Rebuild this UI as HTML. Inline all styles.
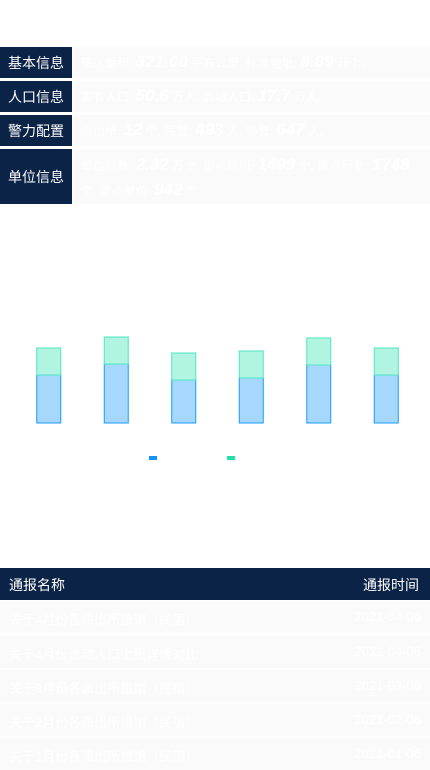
<!DOCTYPE html>
<html><head><meta charset="utf-8"><style>
body{margin:0;width:430px;height:770px;background:#fff;font-family:"Liberation Sans","Noto Sans CJK SC",sans-serif;position:relative;overflow:hidden}
.row{position:absolute;left:0;width:430px;display:flex}
.lab{width:72px;background:#0c2348;color:#fff;font-size:14px;display:flex;align-items:center;justify-content:center}
.val{flex:1;margin-left:1px;background:#fafafa;color:#fff;font-size:12px;padding:4px 8px;line-height:24px}
.val b{font-size:17px;font-style:italic}
.th{position:absolute;left:0;top:568px;width:430px;height:32px;background:#0c2348;color:#fff;font-size:14px}
.tr{position:absolute;left:0;width:430px;height:32px;background:#fafafa;color:#fff;font-size:13px}
</style></head><body>
<div class="row" style="top:47px;height:31px"><div class="lab">基本信息</div><div class="val" style="padding-top:3px">辖区面积: <b>321.00</b> 平方公里, 标准地址: <b>8.89</b> 万个。</div></div>
<div class="row" style="top:81px;height:31px"><div class="lab">人口信息</div><div class="val" style="padding-top:3px">实有人口: <b>50.6</b> 万人, 流动人口: <b>17.7</b> 万人。</div></div>
<div class="row" style="top:115px;height:31px"><div class="lab">警力配置</div><div class="val" style="padding-top:3px">派出所: <b>12</b> 个, 民警: <b>493</b> 人, 协警: <b>647</b> 人。</div></div>
<div class="row" style="top:149px;height:55px"><div class="lab">单位信息</div><div class="val">单位总数: <b>2.32</b> 万个, 重点场所: <b>1499</b> 个, 重点行业: <b>1748</b> 个, 重点单位: <b>942</b> 个</div></div>

<svg id="chart" style="position:absolute;left:0;top:300px" width="430" height="180"></svg>

<div class="th"><span style="position:absolute;left:9px;top:7px">通报名称</span><span style="position:absolute;right:11px;top:7px">通报时间</span></div>
<div id="rows"></div>
<script>
const categories=["A","B","C","D","E","F"];
const seriesBlue=[48,59,43,45,58,48];
const seriesGreen=[27,27,27,27,27,27];
const svg=document.getElementById('chart');
const NS='http://www.w3.org/2000/svg';
const base=123, band=67.5, x0=15, bw=24;
const y=v=>base-v;
const xc=i=>x0+band*i+band/2;
categories.forEach((c,i)=>{
  const b=seriesBlue[i], g=seriesGreen[i];
  const r1=document.createElementNS(NS,'rect');
  r1.setAttribute('x',xc(i)-bw/2);r1.setAttribute('y',y(b));r1.setAttribute('width',bw);r1.setAttribute('height',b);
  r1.setAttribute('fill','#a6d8fe');r1.setAttribute('stroke','#1a9cf7');r1.setAttribute('stroke-width','1');
  
  
  svg.appendChild(r1);
  const r2=document.createElementNS(NS,'rect');
  r2.setAttribute('x',xc(i)-bw/2);r2.setAttribute('y',y(b+g));r2.setAttribute('width',bw);r2.setAttribute('height',g);
  r2.setAttribute('fill','#b1f4e2');r2.setAttribute('stroke','#4ee6c0');r2.setAttribute('stroke-width','1');
  
  
  svg.appendChild(r2);
});
[[149,'#1592fb','legend-blue'],[227,'#21dfa8','legend-green']].forEach(l=>{
  const r=document.createElementNS(NS,'rect');
  r.setAttribute('x',l[0]);r.setAttribute('y',156);r.setAttribute('width',8);r.setAttribute('height',4);r.setAttribute('fill',l[1]);
  
  
  svg.appendChild(r);
});
const names=["关于4月份各派出所旅馆（民宿）","关于4月份流动人口上报详情对比","关于3月份各派出所旅馆（民宿）","关于2月份各派出所旅馆（民宿）","关于1月份各派出所旅馆（民宿）"];
const dates=["2021-04-06","2021-04-06","2021-03-06","2021-02-06","2021-01-06"];
const tops=[601,636,670,704,738];
const rc=document.getElementById('rows');
names.forEach((n,i)=>{
  const d=document.createElement('div');d.className='tr';d.style.top=tops[i]+'px';
  
  
  d.innerHTML='<span style="position:absolute;left:9px;top:8px">'+n+'</span><span style="position:absolute;right:9px;top:8px">'+dates[i]+'</span>';
  rc.appendChild(d);
});
</script>
</body></html>
